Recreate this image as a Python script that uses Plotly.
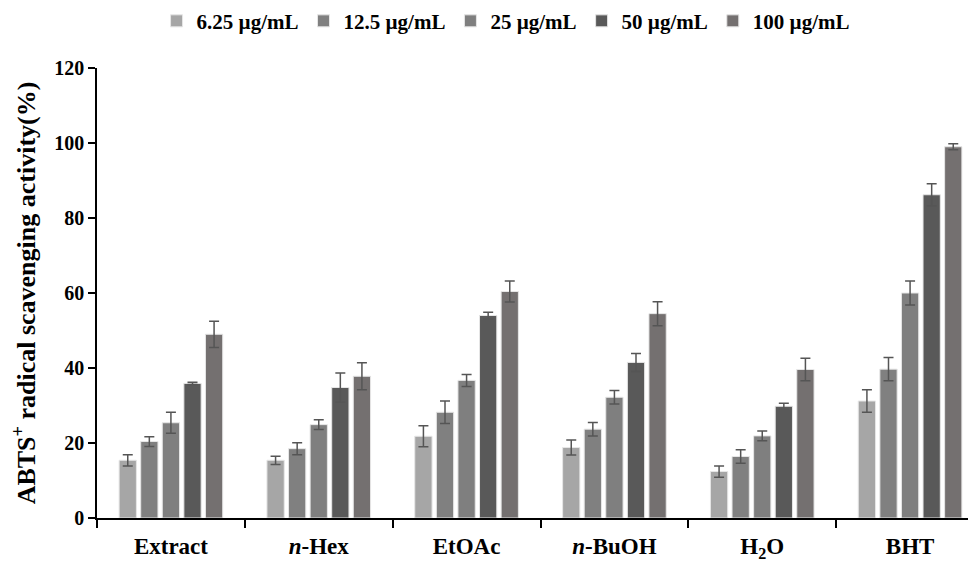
import plotly.graph_objects as go

categories = ["Extract", "<i>n</i>-Hex", "EtOAc", "<i>n</i>-BuOH", "H<sub>2</sub>O", "BHT"]
series_names = ["6.25 µg/mL", "12.5 µg/mL", "25 µg/mL", "50 µg/mL", "100 µg/mL"]

vals_6_25 = [15.4, 15.4, 21.8, 18.8, 12.4, 31.2]
vals_12_5 = [20.4, 18.5, 28.2, 23.7, 16.4, 39.7]
vals_25 = [25.4, 24.9, 36.7, 32.2, 21.9, 60.0]
vals_50 = [35.9, 34.8, 54.0, 41.5, 29.8, 86.2]
vals_100 = [49.0, 37.8, 60.4, 54.5, 39.6, 99.0]

err_6_25 = [1.5, 1.1, 2.8, 2.0, 1.5, 3.0]
err_12_5 = [1.3, 1.6, 3.0, 1.8, 1.8, 3.1]
err_25 = [2.8, 1.3, 1.6, 1.8, 1.3, 3.2]
err_50 = [0.3, 3.9, 0.9, 2.4, 0.8, 2.9]
err_100 = [3.5, 3.6, 2.8, 3.2, 3.0, 0.8]

colors = ["#a6a6a6", "#808080", "#7f7f7f", "#595959", "#747070"]

values = [vals_6_25, vals_12_5, vals_25, vals_50, vals_100]
errors = [err_6_25, err_12_5, err_25, err_50, err_100]

serif = "Liberation Serif, Times New Roman, serif"

fig = go.Figure()
for name, v, e, c in zip(series_names, values, errors, colors):
    fig.add_trace(go.Bar(
        x=categories, y=v, name=name,
        marker=dict(color=c, line=dict(color="#e6e6e6", width=1)),
        error_y=dict(type="data", array=e, visible=True, color="#555555",
                     thickness=1.5, width=5),
    ))

fig.update_layout(
    width=976, height=563,
    barmode="group", bargap=0.27, bargroupgap=0.2,
    plot_bgcolor="white", paper_bgcolor="white",
    margin=dict(l=89, r=0, t=60, b=53, autoexpand=False),
    font=dict(family=serif, color="black", size=20, weight="bold"),
    legend=dict(orientation="h", x=0.4606, xanchor="center", y=1.104, yanchor="middle",
                font=dict(family=serif, size=21, weight="bold"),
                itemwidth=30, tracegroupgap=0, traceorder="normal"),
    xaxis=dict(
        range=[-0.5, 5.5], showline=True, linecolor="black", linewidth=1.5,
        ticks="outside", tickson="boundaries", ticklen=8, tickwidth=1.5, tickcolor="black",
        tickfont=dict(family=serif, size=23, weight="bold"),
        ticklabelstandoff=7,
    ),
    yaxis=dict(
        range=[0, 120], dtick=20, showline=True, linecolor="black", linewidth=1.5,
        ticks="outside", ticklen=7, tickwidth=1.5, tickcolor="black",
        showgrid=False, zeroline=False,
        tickfont=dict(family=serif, size=20, weight="bold"),
        title=dict(text="ABTS<sup>+</sup> radical scavenging activity(%)",
                   font=dict(family=serif, size=26, weight="bold"), standoff=26),
    ),
)

fig.write_html("out.html")
